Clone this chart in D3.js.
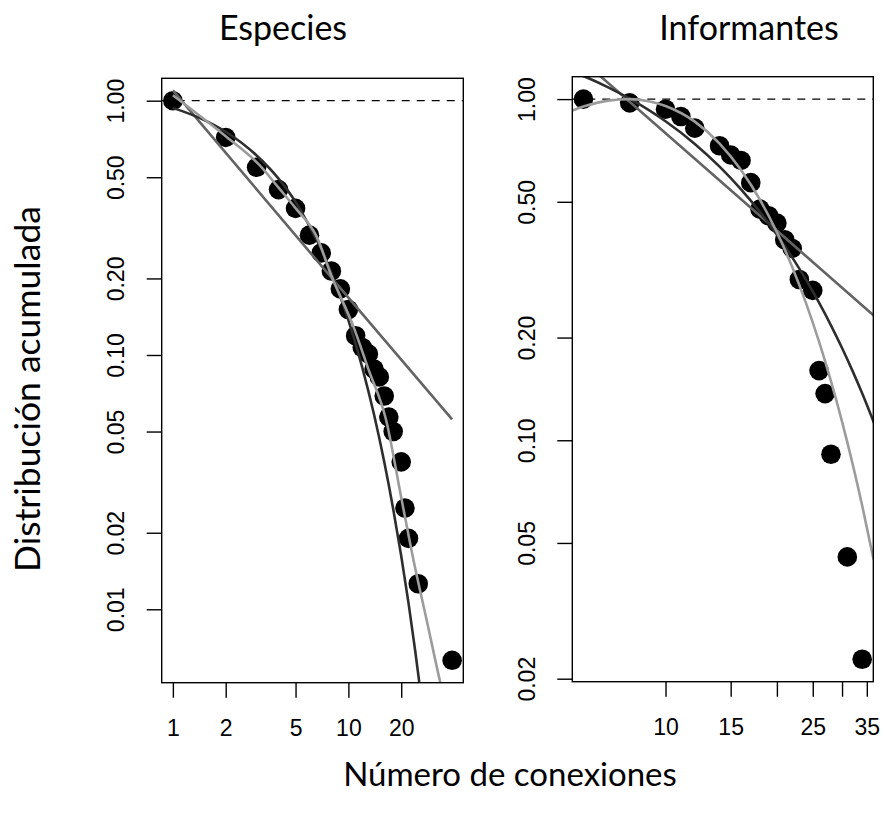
<!DOCTYPE html>
<html><head><meta charset="utf-8">
<script src="https://cdn.jsdelivr.net/npm/d3@7"></script>
<style>body{margin:0;background:#fff} svg{display:block}</style>
</head><body>
<svg id="chart" width="884" height="820"></svg>
<script>
// ---- Data: Especies ----
const speciesX = [1,2,3,4,5,6,7,8,9,10,11,12,13,14,15,16,17,18,20,21,22,25,39];
const speciesY = [1.0,0.717,0.547,0.447,0.377,0.296,0.252,0.214,0.182,0.151,0.119,0.107,0.101,0.088,0.082,0.069,0.057,0.050,0.038,0.025,0.019,0.0126,0.0063];
// fitted curves
const speciesPowerX = [1,10,39];
const speciesPowerY = [1.098,0.168,0.0558];
const speciesExpX = [1,1.5,2,3,4,5,6,7,8,10,12,14,16,18,20,22,24,26];
const speciesExpY = [0.937,0.841,0.755,0.609,0.494,0.400,0.321,0.261,0.210,0.137,0.0892,0.0583,0.038,0.0248,0.0162,0.0106,0.0069,0.0045];
const speciesTruncX = [1,2,3.1,4,5,6.6,8,10.7,13,16.4,20,23.5,28,33.4,35];
const speciesTruncY = [1.05,0.724,0.56,0.455,0.378,0.292,0.205,0.129,0.088,0.0555,0.0275,0.0156,0.009,0.00515,0.0045];
const speciesXTicks = [1,2,5,10,20];
const speciesXLabels = ["1","2","5","10","20"];
const speciesYTicks = [1,0.5,0.2,0.1,0.05,0.02,0.01];
const speciesYLabels = ["1.00","0.50","0.20","0.10","0.05","0.02","0.01"];

// ---- Data: Informantes ----
const informX = [6,8,10,11,12,14,15,16,17,18,19,20,21,22,23,25,26,27,28,31,34];
const informY = [1.0,0.975,0.934,0.889,0.822,0.73,0.686,0.661,0.569,0.476,0.455,0.433,0.387,0.365,0.296,0.275,0.16,0.137,0.091,0.0455,0.0228];
const informPowerX = [6,18,40];
const informPowerY = [1.29,0.455,0.213];
const informExpX = [5.5,6,7,8,10,12,14,16,18,20,22,24,26,28,30,32,34,37];
const informExpY = [1.215,1.169,1.083,1.003,0.861,0.739,0.634,0.544,0.467,0.4006,0.3437,0.2949,0.2531,0.2172,0.1864,0.160,0.1373,0.1091];
const informTruncX = [5.6,6,7,8,9,10,12,14,16,18,20,22,24,26,28,30,32,34,36.5];
const informTruncY = [0.926,0.951,0.990,1.0,0.986,0.955,0.859,0.741,0.620,0.507,0.407,0.322,0.2515,0.1945,0.149,0.1134,0.0857,0.0644,0.0447];
const informXTicks = [10,15,20,25,30,35];
const informXLabels = ["10","15","","25","","35"];
const informYTicks = [1,0.5,0.2,0.1,0.05,0.02];
const informYLabels = ["1.00","0.50","0.20","0.10","0.05","0.02"];

const titles = ["Especies","Informantes"];
const xTitle = "Número de conexiones";
const yTitle = "Distribución acumulada";

const svg = d3.select("#chart");
const tickFont = "'Liberation Sans', Arial, sans-serif";
const titleFont = "Lato, 'Open Sans', sans-serif";
const colDark = "#2e2e2e", colMid = "#646464", colLight = "#9c9c9c";

function rlim(vals){ // R style 4% extension in log space
  const lo = Math.log10(d3.min(vals)), hi = Math.log10(d3.max(vals));
  const e = (hi-lo)*0.04;
  return [Math.pow(10,lo-e), Math.pow(10,hi+e)];
}

function panel(cfg){
  const {id,x0,x1,y0,y1,px,py,curves,xt,xl,yt,yl} = cfg;
  const x = d3.scaleLog().domain(rlim(px)).range([x0,x1]);
  const y = d3.scaleLog().domain(rlim(py)).range([y1,y0]);
  const g = svg.append("g");
  svg.append("defs").append("clipPath").attr("id","clip"+id)
    .append("rect").attr("x",x0).attr("y",y0).attr("width",x1-x0).attr("height",y1-y0);
  const inner = g.append("g").attr("clip-path","url(#clip"+id+")");
  // dashed reference line at 1
  inner.append("line").attr("x1",x0).attr("x2",x1).attr("y1",y(1)).attr("y2",y(1))
    .attr("stroke","#000").attr("stroke-width",1.3).attr("stroke-dasharray","8,7");
  // points
  inner.selectAll("circle").data(px.map((v,i)=>[v,py[i]])).join("circle")
    .attr("cx",d=>x(d[0])).attr("cy",d=>y(d[1])).attr("r",9.8).attr("fill","#000");
  // curves
  const line = d3.line().x(d=>x(d[0])).y(d=>y(d[1])).curve(d3.curveMonotoneX);
  curves.forEach(c=>{
    inner.append("path").datum(c.xs.map((v,i)=>[v,c.ys[i]]))
      .attr("d",line).attr("fill","none").attr("stroke",c.color).attr("stroke-width",2.6);
  });
  // box
  g.append("rect").attr("x",x0).attr("y",y0).attr("width",x1-x0).attr("height",y1-y0)
    .attr("fill","none").attr("stroke","#000").attr("stroke-width",1.4);
  // x axis
  const xa = g.append("g").attr("transform",`translate(0,${y1})`)
    .call(d3.axisBottom(x).tickValues(xt).tickSize(15).tickPadding(22)
      .tickFormat((d,i)=>xl[i]));
  xa.select(".domain").remove();
  xa.selectAll("line").attr("stroke","#000").attr("stroke-width",1.4);
  xa.selectAll("text").attr("font-family",tickFont).attr("font-size",23).attr("fill","#000")
    .attr("dy","0.71em");
  // y axis
  const ya = g.append("g").attr("transform",`translate(${x0},0)`)
    .call(d3.axisLeft(y).tickValues(yt).tickSize(15).tickFormat((d,i)=>yl[i]));
  ya.select(".domain").remove();
  ya.selectAll("line").attr("stroke","#000").attr("stroke-width",1.4);
  ya.selectAll("text").attr("font-family",tickFont).attr("font-size",23).attr("fill","#000")
    .attr("x",null).attr("dy",null).attr("text-anchor","middle")
    .attr("transform","translate(-37.5,0) rotate(-90)");
}

panel({id:1,x0:161.7,x1:463.3,y0:78.3,y1:682.7,px:speciesX,py:speciesY,
  curves:[{xs:speciesPowerX,ys:speciesPowerY,color:colMid},
          {xs:speciesExpX,ys:speciesExpY,color:colDark},
          {xs:speciesTruncX,ys:speciesTruncY,color:colLight}],
  xt:speciesXTicks,xl:speciesXLabels,yt:speciesYTicks,yl:speciesYLabels});
panel({id:2,x0:572.3,x1:873.3,y0:76.7,y1:681.7,px:informX,py:informY,
  curves:[{xs:informPowerX,ys:informPowerY,color:colMid},
          {xs:informExpX,ys:informExpY,color:colDark},
          {xs:informTruncX,ys:informTruncY,color:colLight}],
  xt:informXTicks,xl:informXLabels,yt:informYTicks,yl:informYLabels});

// titles
svg.append("text").attr("x",283).attr("y",40).attr("text-anchor","middle")
  .attr("font-family",titleFont).attr("font-size",34).text(titles[0]);
svg.append("text").attr("x",749).attr("y",40).attr("text-anchor","middle")
  .attr("font-family",titleFont).attr("font-size",34).text(titles[1]);
svg.append("text").attr("x",510).attr("y",786).attr("text-anchor","middle")
  .attr("font-family",titleFont).attr("font-size",33).text(xTitle);
svg.append("text").attr("transform","translate(40,389) rotate(-90)").attr("text-anchor","middle")
  .attr("font-family",titleFont).attr("font-size",35.5).text(yTitle);
</script>
</body></html>
